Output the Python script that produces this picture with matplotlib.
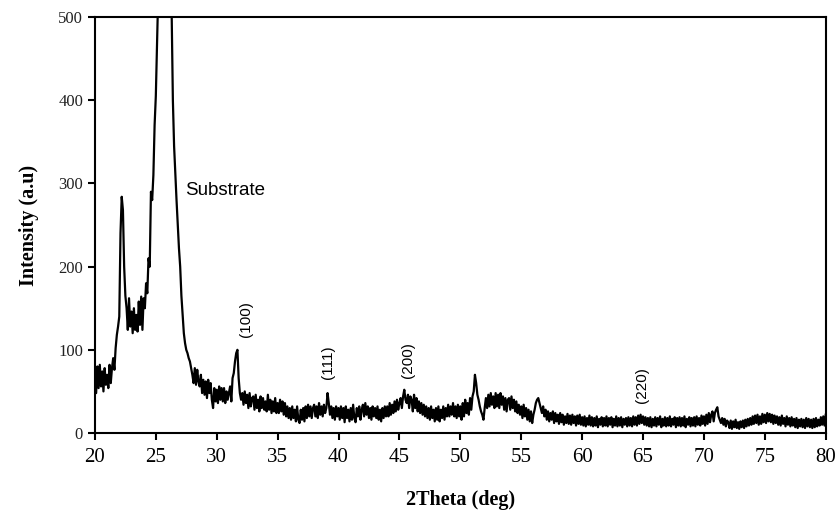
import numpy as np
import matplotlib
matplotlib.use('Agg')
import matplotlib.pyplot as plt

# 2theta grid: 20.0 .. 80.0 in 0.1 deg steps
two_theta = np.round(np.arange(200, 801) / 10.0, 1)

# intensity, one row per degree (x.0 ... x.9)
intensity_rows = [
    [76, 48, 80, 54, 82, 56, 74, 50, 78, 58],             # 20
    [70, 54, 82, 60, 78, 90, 76, 102, 118, 128],          # 21
    [140, 240, 284, 268, 200, 165, 150, 124, 162, 128],   # 22
    [146, 120, 150, 124, 142, 122, 158, 130, 164, 124],   # 23
    [162, 150, 180, 168, 210, 200, 290, 280, 310, 370],   # 24
    [405, 470, 530, 600, 680, 760, 820, 860, 840, 780],   # 25
    [680, 610, 560, 505, 400, 345, 312, 280, 250, 222],   # 26
    [200, 165, 142, 120, 108, 100, 96, 90, 86, 78],       # 27
    [70, 60, 78, 58, 76, 62, 56, 70, 48, 64],             # 28
    [46, 62, 42, 64, 48, 60, 40, 30, 54, 38],             # 29
    [52, 36, 56, 40, 54, 38, 54, 36, 50, 40],             # 30
    [48, 56, 38, 66, 72, 86, 96, 100, 66, 48],            # 31
    [40, 48, 34, 50, 36, 46, 30, 48, 32, 42],             # 32
    [44, 28, 46, 30, 40, 26, 44, 30, 42, 28],             # 33
    [38, 26, 46, 28, 40, 24, 38, 26, 42, 24],             # 34
    [36, 24, 40, 26, 38, 22, 36, 20, 32, 18],             # 35
    [30, 16, 32, 18, 28, 14, 32, 16, 12, 28],             # 36
    [16, 30, 14, 32, 18, 34, 20, 32, 18, 30],             # 37
    [34, 20, 32, 18, 36, 22, 32, 20, 34, 24],             # 38
    [30, 48, 36, 22, 32, 18, 30, 16, 32, 20],             # 39
    [30, 16, 32, 18, 30, 13, 32, 18, 28, 14],             # 40
    [30, 16, 34, 18, 13, 30, 20, 32, 16, 28],             # 41
    [34, 20, 36, 22, 32, 18, 30, 16, 32, 20],             # 42
    [30, 18, 32, 16, 28, 14, 30, 18, 32, 20],             # 43
    [32, 20, 36, 22, 34, 24, 38, 26, 40, 28],             # 44
    [36, 42, 30, 44, 52, 40, 36, 46, 30, 44],             # 45
    [40, 26, 46, 30, 42, 26, 38, 24, 36, 22],             # 46
    [34, 20, 32, 18, 30, 16, 32, 18, 28, 14],             # 47
    [30, 16, 32, 14, 28, 18, 32, 16, 30, 20],             # 48
    [34, 20, 32, 22, 36, 20, 32, 18, 34, 20],             # 49
    [32, 16, 36, 20, 40, 24, 36, 22, 42, 28],             # 50
    [44, 50, 70, 60, 46, 40, 32, 26, 22, 16],             # 51
    [30, 42, 30, 46, 32, 48, 34, 44, 30, 48],             # 52
    [32, 46, 30, 48, 34, 44, 28, 42, 26, 40],             # 53
    [42, 28, 44, 30, 40, 26, 38, 24, 34, 22],             # 54
    [32, 18, 34, 20, 30, 16, 28, 14, 26, 12],             # 55
    [22, 28, 36, 40, 42, 36, 30, 24, 32, 20],             # 56
    [28, 16, 26, 14, 24, 16, 26, 12, 24, 14],             # 57
    [22, 11, 24, 13, 22, 10, 20, 12, 23, 11],             # 58
    [21, 10, 22, 12, 20, 9, 21, 11, 22, 10],              # 59
    [19, 9, 20, 8, 18, 10, 21, 9, 19, 8],                 # 60
    [18, 9, 20, 7, 17, 10, 19, 8, 18, 9],                 # 61
    [20, 8, 18, 10, 19, 7, 17, 9, 20, 8],                 # 62
    [18, 9, 19, 7, 17, 10, 18, 8, 19, 9],                 # 63
    [18, 8, 20, 10, 19, 9, 21, 11, 22, 12],               # 64
    [20, 10, 19, 9, 18, 8, 19, 7, 17, 9],                 # 65
    [19, 8, 18, 10, 20, 7, 17, 9, 19, 8],                 # 66
    [18, 9, 20, 8, 17, 10, 19, 7, 18, 9],                 # 67
    [19, 8, 18, 9, 20, 7, 17, 10, 19, 8],                 # 68
    [18, 9, 19, 8, 20, 10, 18, 9, 21, 11],                # 69
    [20, 9, 22, 11, 24, 13, 22, 26, 14, 24],              # 70
    [28, 31, 20, 16, 12, 18, 10, 17, 8, 15],              # 71
    [13, 6, 15, 5, 14, 7, 16, 6, 13, 5],                  # 72
    [14, 7, 15, 6, 16, 8, 17, 9, 18, 10],                 # 73
    [20, 11, 21, 12, 22, 10, 20, 11, 23, 13],             # 74
    [22, 12, 24, 14, 23, 13, 22, 11, 21, 12],             # 75
    [20, 10, 19, 9, 21, 11, 18, 8, 20, 10],               # 76
    [18, 8, 19, 9, 17, 7, 18, 6, 16, 8],                  # 77
    [17, 7, 16, 6, 18, 8, 17, 7, 16, 6],                  # 78
    [17, 7, 18, 8, 16, 9, 19, 10, 20, 9],                 # 79
    [22],                                                 # 80
]
intensity = np.array([v for row in intensity_rows for v in row], dtype=float)

# peak labels
peak_labels = ['(100)', '(111)', '(200)', '(220)']
peak_label_x = [32.4, 39.1, 45.7, 64.9]
peak_label_y = [137, 85, 88, 58]

fig = plt.figure(figsize=(8.4, 5.11), dpi=100)
ax = fig.add_axes([0.113, 0.1526, 0.870, 0.814])

ax.plot(two_theta, intensity, color='black', linewidth=1.6)

ax.set_xlim(20, 80)
ax.set_ylim(0, 500)
ax.set_xticks(np.arange(20, 81, 5))
ax.set_yticks(np.arange(0, 501, 100))

for s in ax.spines.values():
    s.set_linewidth(1.5)
ax.tick_params(direction='out', length=5, width=1.5, top=False, right=False)
ax.tick_params(axis='x', pad=6)
for lab in ax.get_xticklabels():
    lab.set_fontfamily('Liberation Serif')
    lab.set_fontsize(15)
for lab in ax.get_yticklabels():
    lab.set_fontfamily('Liberation Serif')
    lab.set_fontsize(12)
    lab.set_color('#222222')

ax.set_xlabel('2Theta (deg)', fontfamily='Liberation Serif', fontweight='bold',
              fontsize=14.5, labelpad=16)
ax.set_ylabel('Intensity (a.u)', fontfamily='Liberation Serif', fontweight='bold',
              fontsize=14.5, labelpad=14)

ax.text(27.4, 292, 'Substrate', fontfamily='Liberation Sans', fontsize=13.5,
        ha='left', va='center')
for lbl, lx, ly in zip(peak_labels, peak_label_x, peak_label_y):
    ax.text(lx, ly, lbl, fontfamily='Liberation Sans', fontsize=11,
            rotation=90, ha='center', va='center')

fig.savefig('out.png', dpi=100)
